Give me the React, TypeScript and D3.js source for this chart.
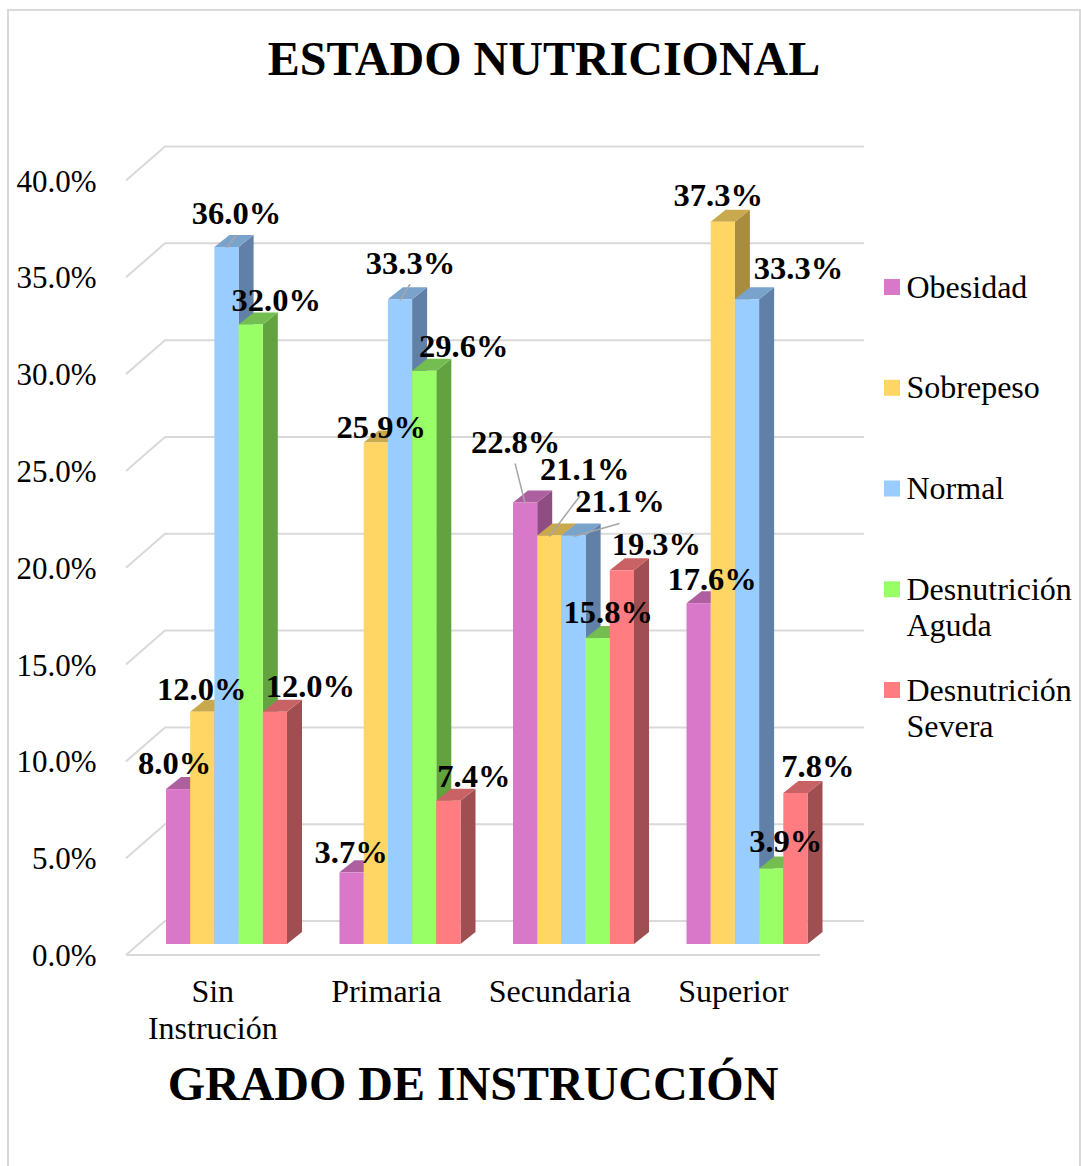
import React from "react";
import * as d3 from "d3";

const categories = [["Sin", "Instrución"], ["Primaria"], ["Secundaria"], ["Superior"]];
const seriesNames = [["Obesidad"], ["Sobrepeso"], ["Normal"], ["Desnutrición", "Aguda"], ["Desnutrición", "Severa"]];
const obesidad = [8.0, 3.7, 22.8, 17.6];
const sobrepeso = [12.0, 25.9, 21.1, 37.3];
const normal = [36.0, 33.3, 21.1, 33.3];
const desnutricionAguda = [32.0, 29.6, 15.8, 3.9];
const desnutricionSevera = [12.0, 7.4, 19.3, 7.8];
const series = [obesidad, sobrepeso, normal, desnutricionAguda, desnutricionSevera];
const yTicks = [0, 5, 10, 15, 20, 25, 30, 35, 40];

const W = 1081, H = 1166;
const FRONT = "#d977c8,#ffd663,#99ccff,#99ff66,#ff7c80".split(",");
const TOP = "#ae5fa0,#c9a94e,#7aa3cc,#74bd50,#c96264".split(",");
const SIDE = "#8f4e83,#a88c3f,#6180a8,#62a340,#9f4f52".split(",");
const SERIF = "'Liberation Serif','Times New Roman',serif";

// label placement relative to each bar's top centre: [dx, baselineDy]
const labelOffsets = [
  [[-5, -15], [-2, -9], [-11, -50], [12, -13]],
  [[-2, -12], [4, -5], [34, -55], [-6, -16]],
  [[8.5, -23], [9, -25], [45, -23], [50, -20]],
  [[24, -13], [38, -14], [9, -15], [13, -16]],
  [[34, -15], [24, -14], [33, -15], [21, -16]],
];
// leader lines: [series, category, endDx, endDy]
const leaders = [
  [2, 0, 10, -12], [2, 1, 10, -15], [0, 2, -10, -39], [1, 2, 31, -40], [2, 2, 46, -12],
];

export default function App() {
  const y = d3.scaleLinear().domain([0, 40]).range([955, 180.5]);
  const xBand = d3.scaleBand<number>().domain(d3.range(4)).range([126, 820]);
  const inner = d3.scaleBand<number>().domain(d3.range(5)).range([0, 121]);
  const groupOffset = 40;
  const dx = 15, dy = 12, wallDx = 39, wallDy = 34, baseUp = 11;
  const bw = inner.bandwidth();
  const barX = (c: number, s: number) => xBand(c)! + groupOffset + inner(s)!;
  const barY = (v: number) => y(v) - baseUp;
  const base = barY(0);
  const poly = (p: number[][]) => p.map((q) => q.join(",")).join(" ");
  const ticks = y.ticks(8);
  return (
    <svg width={W} height={H} style={{ position: "absolute", left: 0, top: 0, background: "#fff" }}>
      <rect x={8} y={10} width={1072} height={1170} fill="#fff" stroke="#d9d9d9" strokeWidth={2} />
      <text x={544} y={75} textAnchor="middle" fontFamily={SERIF} fontWeight="bold" fontSize={48}>ESTADO NUTRICIONAL</text>
      {ticks.map((t) => (
        <polyline key={t} fill="none" stroke="#d9d9d9" strokeWidth={2}
          points={poly([[126, y(t)], [126 + wallDx, y(t) - wallDy], [864, y(t) - wallDy]])} />
      ))}
      <line x1={126} x2={820} y1={y(0)} y2={y(0)} stroke="#d9d9d9" strokeWidth={2} />
      {yTicks.map((t) => (
        <text key={t} x={96.5} y={y(t) + 11} textAnchor="end" fontFamily={SERIF} fontSize={31}>{t.toFixed(1)}%</text>
      ))}
      {categories.map((lines, c) => (
        <text key={c} fontFamily={SERIF} fontSize={32} textAnchor="middle">
          {lines.map((l, i) => (
            <tspan key={i} x={xBand(c)! + xBand.bandwidth() / 2} y={1002 + i * 37}>{l}</tspan>
          ))}
        </text>
      ))}
      {categories.map((_, c) => series.map((vals, s) => {
        const v = vals[c], x0 = barX(c, s), x1 = x0 + bw, t = barY(v);
        return (
          <g key={`${c}-${s}`}>
            <polygon fill={SIDE[s]} points={poly([[x1, t], [x1 + dx, t - dy], [x1 + dx, base - dy], [x1, base]])} />
            <polygon fill={TOP[s]} points={poly([[x0, t], [x0 + dx, t - dy], [x1 + dx, t - dy], [x1, t]])} />
            <rect x={x0} y={t} width={bw} height={base - t} fill={FRONT[s]} />
          </g>
        );
      }))}
      {leaders.map(([s, c, ex, ey], i) => {
        const cx = barX(c, s) + bw / 2, t = barY(series[s][c]);
        return <line key={i} x1={cx} y1={t + 1} x2={cx + ex} y2={t + ey} stroke="#a6a6a6" strokeWidth={1.5} />;
      })}
      {categories.map((_, c) => series.map((vals, s) => (
        <text key={`${c}-${s}`} x={barX(c, s) + bw / 2 + labelOffsets[s][c][0] + 1.5} y={barY(vals[c]) + labelOffsets[s][c][1]}
          textAnchor="middle" fontFamily={SERIF} fontWeight="bold" fontSize={32.5}>{vals[c].toFixed(1)}%</text>
      )))}
      {seriesNames.map((lines, s) => {
        const ly = d3.scaleLinear().domain([0, 4]).range([279, 682])(s);
        return (
          <g key={s}>
            <rect x={884} y={ly} width={16} height={16} fill={FRONT[s]} />
            <text fontFamily={SERIF} fontSize={32}>
              {lines.map((l, i) => <tspan key={i} x={906.5} y={ly + 18.5 + i * 36.5}>{l}</tspan>)}
            </text>
          </g>
        );
      })}
      <text x={473} y={1100} textAnchor="middle" fontFamily={SERIF} fontWeight="bold" fontSize={48}>GRADO DE INSTRUCCIÓN</text>
    </svg>
  );
}
